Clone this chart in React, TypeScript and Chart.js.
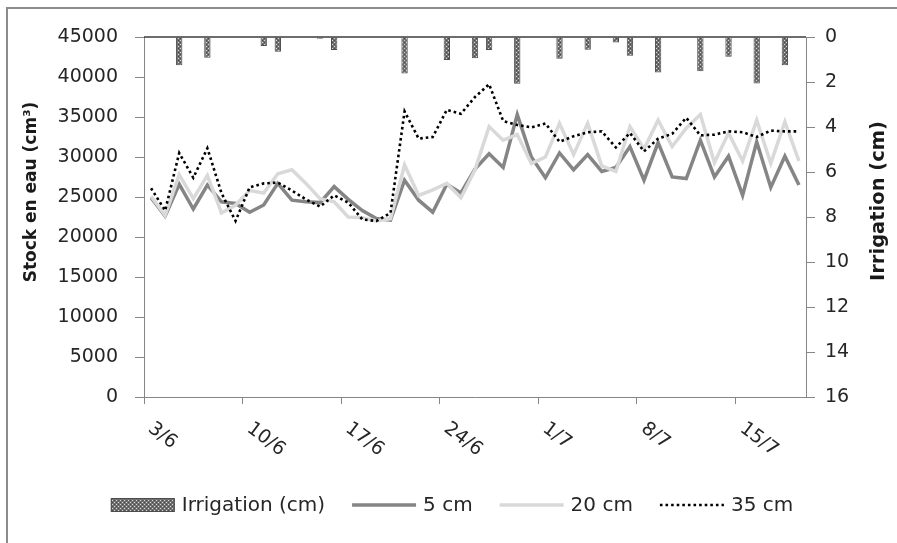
import React, { useEffect, useRef } from 'react';
import { Chart, registerables } from 'chart.js';

Chart.register(...registerables);

const categories = [
  '3/6', '4/6', '5/6', '6/6', '7/6', '8/6', '9/6', '10/6', '11/6', '12/6',
  '13/6', '14/6', '15/6', '16/6', '17/6', '18/6', '19/6', '20/6', '21/6', '22/6',
  '23/6', '24/6', '25/6', '26/6', '27/6', '28/6', '29/6', '30/6', '1/7', '2/7',
  '3/7', '4/7', '5/7', '6/7', '7/7', '8/7', '9/7', '10/7', '11/7', '12/7',
  '13/7', '14/7', '15/7', '16/7', '17/7', '18/7', '19/7',
];

const xTickLabels = ['3/6', '10/6', '17/6', '24/6', '1/7', '8/7', '15/7'];

const stock5cm = [
  24900, 22600, 26600, 23500, 26500, 24400, 24200, 23100, 24000, 26700,
  24600, 24400, 24300, 26300, 24700, 23300, 22300, 22100, 27100, 24600,
  23100, 26600, 25500, 28500, 30400, 28700, 35300, 30000, 27400, 30500,
  28400, 30300, 28200, 28700, 31300, 27100, 31800, 27500, 27300, 32100,
  27500, 30100, 25200, 31900, 26200, 30100, 26500,
];

const stock20cm = [
  25100, 22700, 27800, 24800, 27700, 23000, 24000, 25800, 25500, 27900,
  28400, 26700, 24800, 24400, 22500, 22400, 22000, 22300, 29000, 25200,
  25900, 26700, 24900, 28400, 33800, 32100, 32800, 29200, 30000, 34200,
  30300, 34200, 28900, 28200, 33800, 31000, 34600, 31300, 33600, 35300,
  29300, 33000, 29500, 34600, 29200, 34400, 29500,
];

const stock35cm = [
  26100, 23300, 30500, 27400, 31100, 25500, 22000, 26200, 26700, 26800,
  25800, 24700, 23800, 25200, 24300, 22200, 22000, 23000, 35700, 32300,
  32500, 35900, 35400, 37500, 39100, 34500, 34000, 33700, 34200, 31900,
  32600, 33100, 33200, 31200, 33000, 30700, 32300, 32900, 34900, 32700,
  32800, 33200, 33100, 32500, 33300, 33200, 33200,
];

const irrigationCm = [
  null, null, 1.26, null, 0.92, null, null, null, 0.4, 0.65,
  null, null, 0.08, 0.58, null, null, null, null, 1.62, null,
  null, 1.02, null, 0.94, 0.58, null, 2.08, null, null, 0.97,
  null, 0.57, null, 0.24, 0.83, null, 1.58, null, null, 1.52,
  null, 0.88, null, 2.07, null, 1.26, null,
];

const leftTitle = 'Stock en eau (cm³)';
const rightTitle = 'Irrigation (cm)';

const FONT = '"DejaVu Sans", sans-serif';
const AXIS_GRAY = '#868686';
const TEXT = '#262626';

function makePattern(): CanvasPattern | string {
  const c = document.createElement('canvas');
  c.width = 4;
  c.height = 4;
  const g = c.getContext('2d');
  if (!g) return '#707070';
  g.fillStyle = '#707070';
  g.fillRect(0, 0, 4, 4);
  g.fillStyle = '#d6d6d6';
  g.fillRect(0, 0, 1, 1);
  g.fillRect(2, 2, 1, 1);
  g.fillStyle = '#4a4a4a';
  g.fillRect(2, 0, 1, 1);
  g.fillRect(0, 2, 1, 1);
  return g.createPattern(c, 'repeat') || '#707070';
}

export default function App() {
  const canvasRef = useRef<HTMLCanvasElement | null>(null);

  useEffect(() => {
    const canvas = canvasRef.current;
    if (!canvas) return;
    const pattern = makePattern();

    const overlay = {
      id: 'overlay',
      afterDraw(chart: any) {
        const { ctx, chartArea, scales } = chart;
        const x = scales.x;
        ctx.save();
        // top axis line (secondary horizontal axis)
        ctx.strokeStyle = '#3c3c3c';
        ctx.lineWidth = 1.5;
        ctx.beginPath();
        ctx.moveTo(chartArea.left, chartArea.top);
        ctx.lineTo(chartArea.right, chartArea.top);
        ctx.stroke();

        // rotated x tick labels
        const step = x.getPixelForTick(1) - x.getPixelForTick(0);
        ctx.font = `19px ${FONT}`;
        ctx.fillStyle = TEXT;
        ctx.textAlign = 'left';
        ctx.textBaseline = 'top';
        xTickLabels.forEach((lab) => {
          const idx = categories.indexOf(lab);
          const px = x.getPixelForTick(idx) - step / 2;
          ctx.save();
          ctx.translate(px + 12, chartArea.bottom + 22);
          ctx.rotate((37 * Math.PI) / 180);
          ctx.fillText(lab, 0, 0);
          ctx.restore();
        });

        // axis titles
        ctx.fillStyle = '#1a1a1a';
        ctx.textAlign = 'center';
        ctx.textBaseline = 'middle';
        ctx.save();
        ctx.translate(32, 192);
        ctx.rotate(-Math.PI / 2);
        ctx.font = `bold 17px ${FONT}`;
        ctx.fillText(leftTitle, 0, 0);
        ctx.restore();
        ctx.save();
        ctx.translate(879, 201);
        ctx.rotate(-Math.PI / 2);
        ctx.font = `bold 19.5px ${FONT}`;
        ctx.fillText(rightTitle, 0, 0);
        ctx.restore();

        // legend
        const ds = chart.data.datasets;
        const legendOrder = [3, 2, 1, 0];
        ctx.font = `20px ${FONT}`;
        const symW = 64;
        const gapText = 7;
        const gapItem = 27;
        const widths = legendOrder.map((i) => symW + gapText + ctx.measureText(ds[i].label).width);
        const total = widths.reduce((a: number, b: number) => a + b, 0) + gapItem * (widths.length - 1);
        let cx = 452 - total / 2;
        const cy = 505;
        legendOrder.forEach((i, k) => {
          const d = ds[i];
          if (d.type === 'bar') {
            ctx.fillStyle = pattern;
            ctx.fillRect(cx, cy - 7, symW, 14);
            ctx.strokeStyle = '#4d4d4d';
            ctx.lineWidth = 1;
            ctx.strokeRect(cx + 0.5, cy - 6.5, symW - 1, 13);
          } else {
            ctx.strokeStyle = d.borderColor;
            ctx.lineWidth = d.borderWidth;
            ctx.setLineDash(d.borderDash || []);
            ctx.beginPath();
            ctx.moveTo(cx, cy);
            ctx.lineTo(cx + symW, cy);
            ctx.stroke();
            ctx.setLineDash([]);
          }
          ctx.fillStyle = TEXT;
          ctx.textAlign = 'left';
          ctx.textBaseline = 'middle';
          ctx.fillText(d.label, cx + symW + gapText, cy + 1);
          cx += widths[k] + gapItem;
        });
        ctx.restore();
      },
    };

    const chart = new Chart(canvas, {
      type: 'bar',
      data: {
        labels: categories,
        datasets: [
          {
            type: 'line',
            label: '35 cm',
            data: stock35cm,
            yAxisID: 'y',
            borderColor: '#000000',
            borderWidth: 2.6,
            borderDash: [2.6, 3],
            pointRadius: 0,
            tension: 0,
            fill: false,
            order: 1,
          },
          {
            type: 'line',
            label: '20 cm',
            data: stock20cm,
            yAxisID: 'y',
            borderColor: '#d9d9d9',
            borderWidth: 3.5,
            pointRadius: 0,
            tension: 0,
            fill: false,
            order: 2,
          },
          {
            type: 'line',
            label: '5 cm',
            data: stock5cm,
            yAxisID: 'y',
            borderColor: '#858585',
            borderWidth: 3.5,
            pointRadius: 0,
            tension: 0,
            fill: false,
            order: 3,
          },
          {
            type: 'bar',
            label: 'Irrigation (cm)',
            data: irrigationCm,
            yAxisID: 'y1',
            backgroundColor: pattern,
            borderColor: '#4d4d4d',
            borderWidth: 1,
            barPercentage: 0.45,
            categoryPercentage: 1,
            order: 4,
          },
        ],
      } as any,
      options: {
        animation: false,
        responsive: true,
        maintainAspectRatio: false,
        layout: { padding: { top: 37, left: 0, right: 0, bottom: 0 } },
        plugins: { legend: { display: false }, tooltip: { enabled: false } },
        scales: {
          x: {
            type: 'category',
            offset: true,
            grid: {
              offset: true,
              drawOnChartArea: false,
              drawTicks: true,
              tickLength: 7,
              color: (c: any) =>
                c.index !== undefined && c.index % 7 === 0 ? AXIS_GRAY : 'rgba(0,0,0,0)',
            },
            border: { color: AXIS_GRAY, width: 1 },
            ticks: { display: false },
            afterFit: (s: any) => {
              s.height = 146;
            },
          },
          y: {
            position: 'left',
            min: 0,
            max: 45000,
            ticks: {
              stepSize: 5000,
              font: { family: FONT, size: 19 },
              color: TEXT,
              padding: 17,
              callback: (v: any) => String(v),
            },
            grid: { drawOnChartArea: false, tickLength: 9, color: AXIS_GRAY },
            border: { color: AXIS_GRAY, width: 1 },
            afterFit: (s: any) => {
              s.width = 144;
            },
          },
          y1: {
            position: 'right',
            reverse: true,
            min: 0,
            max: 16,
            ticks: {
              stepSize: 2,
              font: { family: FONT, size: 19 },
              color: TEXT,
              padding: 10,
              callback: (v: any) => String(v),
            },
            grid: { drawOnChartArea: false, tickLength: 9, color: AXIS_GRAY },
            border: { color: AXIS_GRAY, width: 1 },
            afterFit: (s: any) => {
              s.width = 91;
            },
          },
        },
      } as any,
      plugins: [overlay],
    });

    return () => {
      chart.destroy();
    };
  }, []);

  return (
    <div style={{ position: 'absolute', left: 0, top: 0, width: 897, height: 543, background: '#ffffff' }}>
      <div
        style={{
          position: 'absolute',
          left: 6,
          top: 7,
          width: 900,
          height: 545,
          borderLeft: '2px solid #8c8c8c',
          borderTop: '2px solid #8c8c8c',
        }}
      />
      <div style={{ position: 'absolute', left: 0, top: 0, width: 897, height: 543 }}>
        <canvas ref={canvasRef} />
      </div>
    </div>
  );
}
